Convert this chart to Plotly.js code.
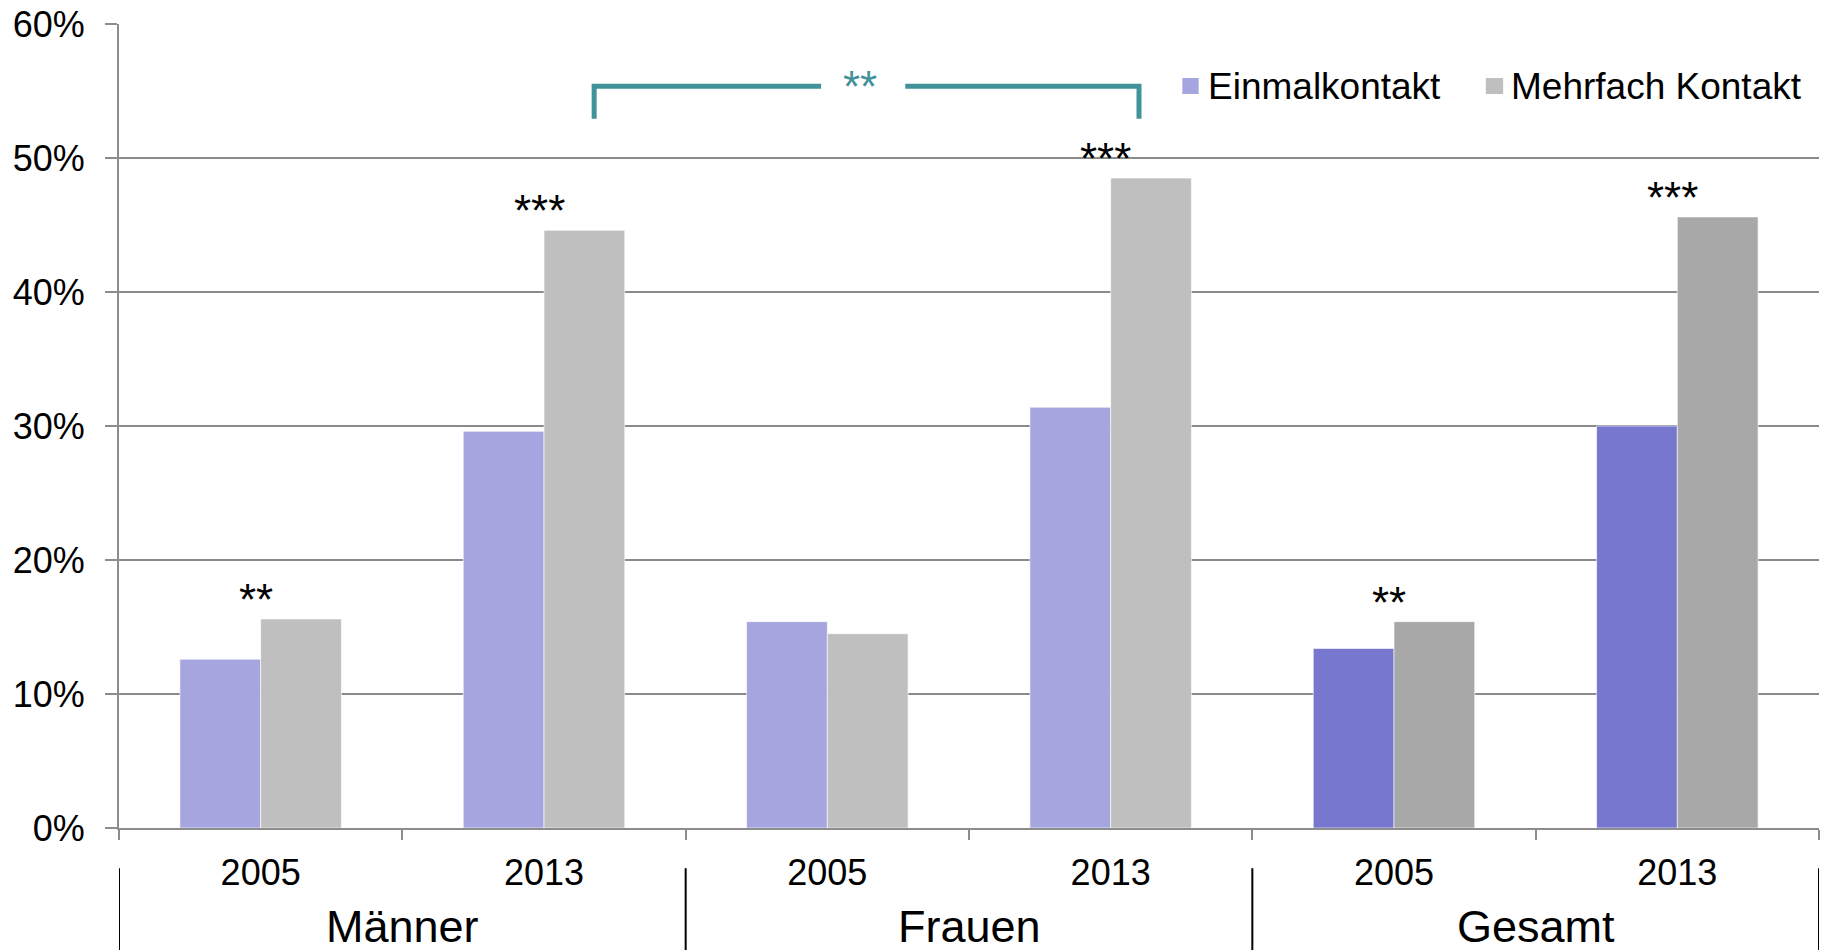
<!DOCTYPE html>
<html>
<head>
<meta charset="utf-8">
<script src="https://cdn.plot.ly/plotly-3.0.1.min.js"></script>
<style>
  html, body { margin: 0; padding: 0; background: #ffffff; }
  #chart { width: 1823px; height: 950px; }
</style>
</head>
<body>
<div id="chart"></div>
<script>
// ---- data ----
const groups = ['Männer', 'Frauen', 'Gesamt'];
const years = ['2005', '2013'];
const einmalkontakt = [12.6, 29.6, 15.4, 31.4, 13.4, 30.0];
const mehrfachKontakt = [15.6, 44.6, 14.5, 48.5, 15.4, 45.6];
const significance = ['**', '***', '', '***', '**', '***'];
const seriesNames = ['Einmalkontakt', 'Mehrfach Kontakt'];
const comparisonLabel = '**';

// ---- styles ----
const colEinLight = '#A5A5DF', colEinDark = '#7777CF';
const colMehLight = '#BFBFBF', colMehDark = '#A8A8A8';
const teal = '#42929A';
const font = 'Arial, "Liberation Sans", sans-serif';

const keys = [];
const tickText = [];
const groupOf = [];
groups.forEach(g => years.forEach(y => { keys.push(g + ' ' + y); tickText.push(y); groupOf.push(g); }));

const einColors = groupOf.map(g => g === 'Gesamt' ? colEinDark : colEinLight);
const mehColors = groupOf.map(g => g === 'Gesamt' ? colMehDark : colMehLight);

const traces = [
  { type: 'bar', name: seriesNames[0], x: keys, y: einmalkontakt,
    marker: { color: einColors, line: { color: 'rgba(255,255,255,0.6)', width: 1 } },
    hoverinfo: 'y+name' },
  { type: 'bar', name: seriesNames[1], x: keys, y: mehrfachKontakt,
    marker: { color: mehColors, line: { color: 'rgba(255,255,255,0.6)', width: 1 } },
    hoverinfo: 'y+name' }
];

const annotations = [];
keys.forEach((k, i) => {
  if (!significance[i]) return;
  annotations.push({
    x: k, y: Math.max(einmalkontakt[i], mehrfachKontakt[i]),
    xref: 'x', yref: 'y', text: significance[i], showarrow: false,
    yanchor: 'bottom', yshift: -7, xshift: -5,
    font: { family: font, size: 44, color: '#000000' }
  });
});
groups.forEach((g, gi) => {
  annotations.push({
    x: gi * years.length + (years.length - 1) / 2, y: -0.122,
    xref: 'x', yref: 'paper', text: g, showarrow: false,
    yanchor: 'middle', xanchor: 'center',
    font: { family: font, size: 45, color: '#000000' }
  });
});
// comparison bracket label
annotations.push({
  x: 2.116, y: 0.922, xref: 'x', yref: 'paper', text: comparisonLabel,
  showarrow: false, yanchor: 'middle', xanchor: 'center',
  font: { family: font, size: 44, color: teal }
});

const shapes = [];
// group dividers
for (let gi = 0; gi <= groups.length; gi++) {
  const xv = gi * years.length - 0.5;
  shapes.push({ type: 'line', xref: 'x', yref: 'paper', x0: xv, x1: xv, y0: -0.050, y1: -0.16,
    line: { color: '#000000', width: 2 } });
}
// bracket
const bTop = 0.9225, bBot = 0.882;
shapes.push({ type: 'path', xref: 'x', yref: 'paper',
  path: `M 1.177 ${bBot} L 1.177 ${bTop} L 1.978 ${bTop}`,
  line: { color: teal, width: 5 } });
shapes.push({ type: 'path', xref: 'x', yref: 'paper',
  path: `M 2.275 ${bTop} L 3.10 ${bTop} L 3.10 ${bBot}`,
  line: { color: teal, width: 5 } });

// legend (swatch + label), drawn in paper coordinates
const legendItems = [
  { name: seriesNames[0], color: colEinLight, x0: 0.6255, x1: 0.6351, tx: 0.6395 },
  { name: seriesNames[1], color: colMehLight, x0: 0.8040, x1: 0.8142, tx: 0.8175 }
];
legendItems.forEach(it => {
  shapes.push({ type: 'rect', xref: 'paper', yref: 'paper', x0: it.x0, x1: it.x1,
    y0: 0.9129, y1: 0.9328, fillcolor: it.color, line: { width: 0 } });
  annotations.push({ x: it.tx, y: 0.9228, xref: 'paper', yref: 'paper', text: it.name,
    showarrow: false, xanchor: 'left', yanchor: 'middle',
    font: { family: font, size: 37, color: '#000000' } });
});

const layout = {
  width: 1823, height: 950,
  margin: { l: 119, r: 4, t: 24, b: 122 },
  paper_bgcolor: '#ffffff', plot_bgcolor: '#ffffff',
  font: { family: font, color: '#000000' },
  barmode: 'group', bargap: 0.43, bargroupgap: 0,
  showlegend: false,
  xaxis: {
    type: 'category', tickmode: 'array', tickvals: keys, ticktext: tickText,
    tickson: 'boundaries', ticks: 'outside', ticklen: 10, tickwidth: 2, tickcolor: '#8c8c8c',
    showline: true, linecolor: '#8c8c8c', linewidth: 2,
    showgrid: false, zeroline: false,
    tickfont: { family: font, size: 36, color: '#000000' },
    ticklabelstandoff: 12,
    range: [-0.5, 5.5], fixedrange: true
  },
  yaxis: {
    range: [0, 60], dtick: 10, tick0: 0, ticksuffix: '%',
    ticks: 'outside', ticklen: 12, tickwidth: 2, tickcolor: '#8c8c8c',
    showline: true, linecolor: '#8c8c8c', linewidth: 2,
    showgrid: true, gridcolor: '#8a8a8a', gridwidth: 2,
    zeroline: false,
    tickfont: { family: font, size: 36, color: '#000000' },
    ticklabelstandoff: 13, fixedrange: true
  },
  annotations: annotations,
  shapes: shapes
};

Plotly.newPlot('chart', traces, layout, { displayModeBar: false, staticPlot: true });
</script>
</body>
</html>
